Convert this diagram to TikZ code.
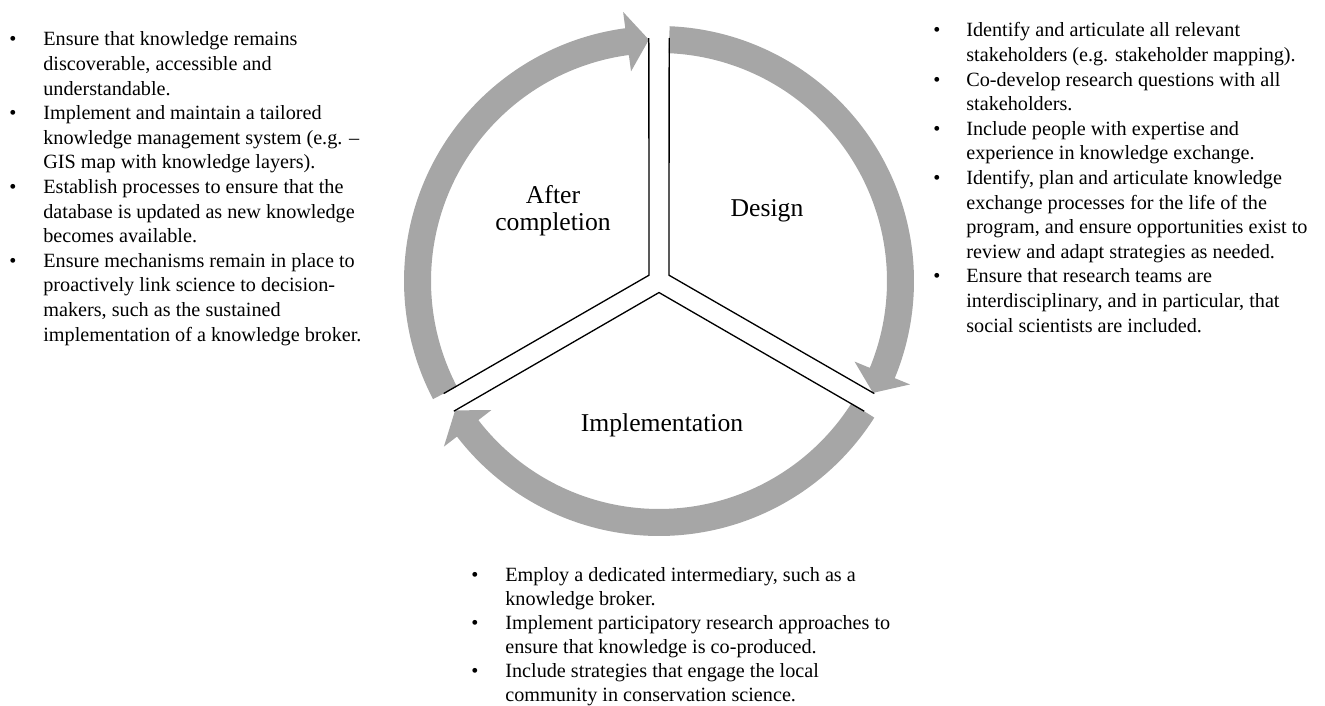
\documentclass[tikz,border=0pt]{standalone}
\usepackage{fontspec}
\setmainfont{Liberation Serif}
\usepackage{tikz}

\begin{document}
\begin{tikzpicture}[
  x=0.02cm, y=0.02cm,
  ring/.style={fill=black!35},
  wedge/.style={draw, line width=0.75pt},
  stage/.style={font=\fontsize{14.6}{15.3}\selectfont, align=center, inner sep=0},
  notes/.style={font=\fontsize{11.5}{14}\selectfont, inner sep=0, anchor=base west}
]
  \useasboundingbox (0,0) rectangle (1325,706);
  \coordinate (c) at (659,425);

  \begin{scope}[shift={(c)}]
    % Cycle arrows (clockwise)
    \fill[ring] (207.6:255) arc[start angle=207.6, end angle=97.6, radius=255]
      -- (97.6:271.5) -- (92.4:241.5) -- (97.6:211.5) -- (97.6:228)
      arc[start angle=97.6, end angle=207.6, radius=228] -- cycle;
    \fill[ring] (87.6:255) arc[start angle=87.6, end angle=-22.4, radius=255]
      -- (-22.4:271.5) -- (-27.6:241.5) -- (-22.4:211.5) -- (-22.4:228)
      arc[start angle=-22.4, end angle=87.6, radius=228] -- cycle;
    \fill[ring] (-32.4:255) arc[start angle=-32.4, end angle=-142.4, radius=255]
      -- (-142.4:271.5) -- (-147.6:241.5) -- (-142.4:211.5) -- (-142.4:228)
      arc[start angle=-142.4, end angle=-32.4, radius=228] -- cycle;

    % Wedge outlines
    \draw[wedge] (92.4:243) -- (150:11.55) -- (207.6:243);
    \draw[wedge] (87.6:243) -- (30:11.55) -- (-27.6:243);
    \draw[wedge] (-32.4:243) -- (-90:11.55) -- (-147.6:243);
  \end{scope}

  % Stage names
  \node[stage] (after) at (553,495.5) {After\\completion};
  \node[stage, anchor=base] (design) at (767,489) {Design};
  \node[stage, anchor=base] (impl) at (662,274) {Implementation};

  % After completion
  \node[notes] (afternotes) at (9,660) {\begin{tabular}[t]{@{}p{0.68cm}@{}l@{}}
    \textbullet & Ensure that knowledge remains\\
    & discoverable, accessible and\\
    & understandable.\\
    \textbullet & Implement and maintain a tailored\\
    & knowledge management system (e.g. --\\
    & GIS map with knowledge layers).\\
    \textbullet & Establish processes to ensure that the\\
    & database is updated as new knowledge\\
    & becomes available.\\
    \textbullet & Ensure mechanisms remain in place to\\
    & proactively link science to decision-\\
    & makers, such as the sustained\\
    & implementation of a knowledge broker.
  \end{tabular}};

  % Design
  \node[notes] (designnotes) at (933,669) {\begin{tabular}[t]{@{}p{0.66cm}@{}l@{}}
    \textbullet & Identify and articulate all relevant\\
    & stakeholders (e.g. stakeholder mapping).\\
    \textbullet & Co-develop research questions with all\\
    & stakeholders.\\
    \textbullet & Include people with expertise and\\
    & experience in knowledge exchange.\\
    \textbullet & Identify, plan and articulate knowledge\\
    & exchange processes for the life of the\\
    & program, and ensure opportunities exist to\\
    & review and adapt strategies as needed.\\
    \textbullet & Ensure that research teams are\\
    & interdisciplinary, and in particular, that\\
    & social scientists are included.
  \end{tabular}};

  % Implementation
  \node[notes, font=\fontsize{11.5}{13.6}\selectfont] (implnotes) at (471,124) {\begin{tabular}[t]{@{}p{0.68cm}@{}l@{}}
    \textbullet & Employ a dedicated intermediary, such as a\\
    & knowledge broker.\\
    \textbullet & Implement participatory research approaches to\\
    & ensure that knowledge is co-produced.\\
    \textbullet & Include strategies that engage the local\\
    & community in conservation science.
  \end{tabular}};
\end{tikzpicture}
\end{document}
